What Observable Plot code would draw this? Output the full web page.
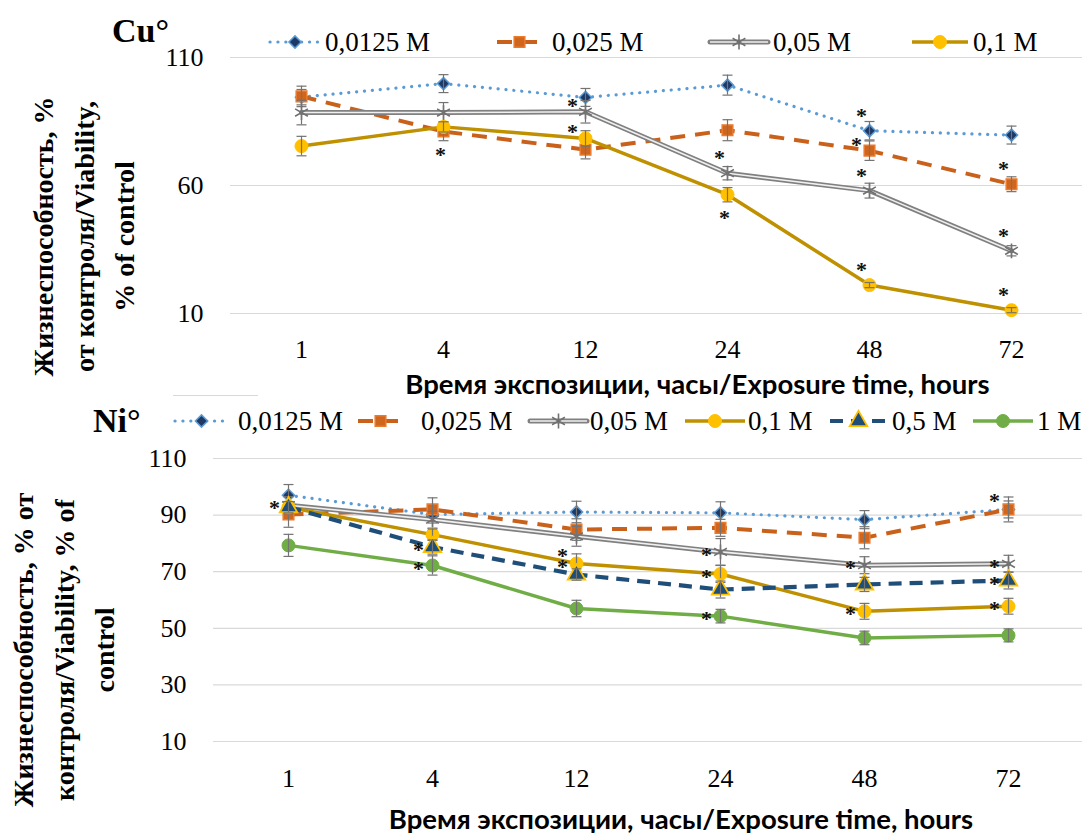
<!DOCTYPE html>
<html><head><meta charset="utf-8">
<script src="https://cdn.jsdelivr.net/npm/d3@7"></script>
<script src="https://cdn.jsdelivr.net/npm/@observablehq/plot@0.6"></script>
<style>
body{margin:0;background:#fff;}
#root{position:relative;width:1084px;height:835px;overflow:hidden;background:#fff;}
#root > svg{position:absolute;left:0;overflow:visible;}
</style></head><body><div id="root"></div>
<script>
// ---------- data ----------
const times = ["1","4","12","24","48","72"];

const cuSeries = ["0,0125 M","0,025 M","0,05 M","0,1 M"];
const cu0125 = [94.5, 99.8, 94.4, 99.2, 81.4, 79.7];
const cu025  = [94.8, 81.1, 74.0, 81.6, 73.6, 60.5];
const cu05   = [88.5, 88.5, 88.8, 64.8, 58.0, 34.5];
const cu1    = [75.4, 82.9, 78.4, 56.4, 21.1, 11.3];
const cu0125Err = [3.0, 3.5, 3.5, 3.9, 3.6, 3.5];
const cu025Err  = [4.0, 3.6, 3.6, 4.1, 3.8, 2.9];
const cu05Err   = [4.8, 3.9, 4.4, 2.6, 2.9, 2.0];
const cu1Err    = [3.8, 2.0, 3.0, 2.8, 1.0, 1.0];

const niSeries = ["0,0125 M","0,025 M","0,05 M","0,1 M","0,5 M","1 M"];
const ni0125 = [97.0, 90.2, 91.1, 90.8, 88.4, 92.0];
const ni025  = [90.2, 92.0, 84.9, 85.5, 82.0, 92.0];
const ni05   = [93.5, 88.4, 82.5, 77.0, 72.3, 72.8];
const ni1    = [92.8, 83.1, 72.9, 69.2, 56.0, 57.8];
const ni5    = [92.8, 78.7, 69.0, 63.7, 65.5, 66.9];
const ni10   = [79.3, 72.2, 57.0, 54.3, 46.6, 47.5];
const ni0125Err = [3.8, 3.0, 3.8, 3.9, 3.2, 3.0];
const ni025Err  = [4.5, 4.1, 3.8, 3.0, 3.9, 4.4];
const ni05Err   = [3.0, 3.0, 3.5, 4.7, 3.0, 3.0];
const ni1Err    = [2.0, 2.0, 3.4, 3.0, 2.8, 2.8];
const ni5Err    = [2.0, 2.5, 2.0, 3.0, 2.5, 3.0];
const ni10Err   = [3.9, 3.4, 2.9, 2.4, 2.4, 2.3];

// significance marks: [time, series]
const cuStarAbove = [["24","0,05 M"],["48","0,0125 M"],["48","0,05 M"],["48","0,1 M"],["72","0,025 M"],["72","0,05 M"],["72","0,1 M"]];
const cuStarAboveLeft = [["12","0,05 M"],["12","0,1 M"],["48","0,025 M"]];
const cuStarBelow = [["4","0,025 M"],["24","0,1 M"]];
const niStarLeft = [["1","0,05 M"],["4","0,5 M"],["4","1 M"],["24","0,05 M"],["24","0,1 M"],["24","1 M"],["48","0,05 M"],["48","0,1 M"],["72","0,05 M"],["72","0,5 M"],["72","0,1 M"]];
const niStarAboveLeft = [["12","0,1 M"],["12","0,5 M"],["72","0,025 M"]];

const cuTicks = [10, 60, 110];
const niTicks = [10, 30, 50, 70, 90, 110];
const yLabelCu = "Жизнеспособность, %\nот контроля/Viability,\n% of control";
const yLabelNi = "Жизнеспособность, % от\nконтроля/Viability, % of\ncontrol";
const xLabel = "Время экспозиции, часы/Exposure time, hours";

// ---------- styles ----------
const serif = "'Liberation Serif','Times New Roman',serif";
const errColor = "#737373";
const seriesStyle = {
  "0,0125 M": {stroke:"#5B9BD5", width:3.2, dash:"0.1 7.8", cap:"round", symbol:"diamond2", fill:"#1F3864", mstroke:"#5B9BD5", r:5.5, mw:1.5},
  "0,025 M":  {stroke:"#C9611B", width:4, dash:"15 10", cap:"butt", symbol:"square", fill:"#D0661E", mstroke:"#E97B2F", r:6, mw:1.5},
  "0,05 M":   {double:true, stroke:"#808080", width:5, inner:"#f0f0f0", innerWidth:1.6, symbol:"asterisk", fill:"none", mstroke:"#707070", r:7, mw:1.6},
  "0,1 M":    {stroke:"#BF9000", width:3.5, symbol:"circle", fill:"#FFC000", mstroke:"#FFC000", r:6.5, mw:1},
  "0,5 M":    {stroke:"#1F4E79", width:4.2, dash:"13 8", cap:"butt", symbol:"triangle", fill:"#1F4E79", mstroke:"#FFC000", r:6.5, mw:1.8},
  "1 M":      {stroke:"#70AD47", width:3.5, symbol:"circle", fill:"#70AD47", mstroke:"#70AD47", r:6.5, mw:1}
};
const capSymbol = {draw(ctx, size){ const w = Math.sqrt(size/Math.PI); ctx.moveTo(-w,0); ctx.lineTo(w,0); }};

function buildPanel(cfg){
  const rows = [];
  cfg.series.forEach((s, si) => cfg.values[si].forEach((v, i) => rows.push({time: times[i], series: s, v, e: cfg.errors[si][i]})));
  const lookup = new Map(rows.map(d => [d.time + "|" + d.series, d]));
  const marks = [
    Plot.gridY(cfg.yTicks, {stroke:"#d9d9d9", strokeOpacity:1, strokeWidth:1.2}),
    Plot.axisY(cfg.yTicks, {tickSize:0, tickPadding:27, fontSize:26, label:null}),
    Plot.axisX({tickSize:0, tickPadding:cfg.xPad, fontSize:26, label:null})
  ];
  for (const s of cfg.series){
    const st = seriesStyle[s];
    const data = rows.filter(d => d.series === s);
    if (st.double){
      marks.push(Plot.line(data, {x:"time", y:"v", stroke:st.stroke, strokeWidth:st.width}));
      marks.push(Plot.line(data, {x:"time", y:"v", stroke:st.inner, strokeWidth:st.innerWidth}));
    } else {
      marks.push(Plot.line(data, {x:"time", y:"v", stroke:st.stroke, strokeWidth:st.width, strokeDasharray:st.dash, strokeLinecap:st.cap || "butt"}));
    }
    marks.push(Plot.dot(data, {x:"time", y:"v", symbol:st.symbol, r:st.r, fill:st.fill, stroke:st.mstroke, strokeWidth:st.mw}));
    marks.push(Plot.ruleX(data, {x:"time", y1:d=>d.v-d.e, y2:d=>d.v+d.e, stroke:errColor, strokeWidth:1.2}));
    marks.push(Plot.dot(data, {x:"time", y:d=>d.v+d.e, symbol:capSymbol, r:5, fill:"none", stroke:errColor, strokeWidth:1.2}));
    marks.push(Plot.dot(data, {x:"time", y:d=>d.v-d.e, symbol:capSymbol, r:5, fill:"none", stroke:errColor, strokeWidth:1.2}));
  }
  for (const g of cfg.stars){
    marks.push(Plot.text(g.list.map(([t,s]) => lookup.get(t + "|" + s)), {x:"time", y:"v", text:()=>"*", dx:g.dx, dy:g.dy, fontSize:22, fontWeight:"bold", fill:"#111"}));
  }
  marks.push(Plot.text([cfg.yLabel], {frameAnchor:"left", rotate:-90, dx:cfg.yLabelDx, dy:cfg.yLabelDy, textAnchor:"middle", lineAnchor:"middle", lineHeight:1.45, fontSize:28, fontWeight:"bold", fill:"#000"}));
  marks.push(Plot.text([xLabel], {frameAnchor:"bottom", lineAnchor:"middle", dx:cfg.xLabelDx, dy:cfg.xLabelDy, fontFamily:"Lato, 'Open Sans', sans-serif", fontWeight:"bold", fontSize:27.5, fill:"#000"}));
  return Plot.plot({
    width:1084, height:cfg.height,
    marginTop:cfg.marginTop, marginBottom:cfg.marginBottom, marginLeft:cfg.marginLeft, marginRight:2,
    x:{type:"point", domain:times, padding:0.5},
    y:{domain:[10,110]},
    style:{fontFamily:serif, fontSize:"26px", background:"transparent", color:"#000", overflow:"visible"},
    marks
  });
}

const root = document.getElementById("root");

const topPlot = buildPanel({
  series: cuSeries, values:[cu0125, cu025, cu05, cu1], errors:[cu0125Err, cu025Err, cu05Err, cu1Err],
  yTicks: cuTicks, height:400, marginTop:57, marginBottom:87, marginLeft:230, xPad:26,
  stars:[{list:cuStarAbove, dx:-8, dy:-15},{list:cuStarAboveLeft, dx:-13, dy:-6},{list:cuStarBelow, dx:-3, dy:23}],
  yLabel: yLabelCu, yLabelDx:-150, yLabelDy:51, xLabelDx:41, xLabelDy:72
});
topPlot.style.top = "0px";
root.appendChild(topPlot);

const bottomPlot = buildPanel({
  series: niSeries, values:[ni0125, ni025, ni05, ni1, ni5, ni10], errors:[ni0125Err, ni025Err, ni05Err, ni1Err, ni5Err, ni10Err],
  yTicks: niTicks, height:440, marginTop:63, marginBottom:94, marginLeft:213, xPad:27,
  stars:[{list:niStarLeft, dx:-14, dy:3},{list:niStarAboveLeft, dx:-14, dy:-8}],
  yLabel: yLabelNi, yLabelDx:-153, yLabelDy:50, xLabelDx:33, xLabelDy:79
});
bottomPlot.style.top = "395px";
root.appendChild(bottomPlot);

// ---------- legends & panel labels ----------
const ov = d3.select(root).append("svg").attr("width",1084).attr("height",835).style("top","0px").style("pointer-events","none");
ov.append("line").attr("x1",173).attr("x2",258).attr("y1",395.5).attr("y2",395.5).attr("stroke","#d9d9d9").attr("stroke-width",1.2);
const symbolTypes = {diamond2:d3.symbolDiamond2, square:d3.symbolSquare, asterisk:d3.symbolAsterisk, circle:d3.symbolCircle, triangle:d3.symbolTriangle};
function legendItem(s, x0, x1, tx, y){
  const st = seriesStyle[s];
  if (st.double){
    ov.append("line").attr("x1",x0).attr("x2",x1).attr("y1",y).attr("y2",y).attr("stroke",st.stroke).attr("stroke-width",st.width).attr("stroke-linecap","round");
    ov.append("line").attr("x1",x0).attr("x2",x1).attr("y1",y).attr("y2",y).attr("stroke",st.inner).attr("stroke-width",st.innerWidth);
  } else {
    ov.append("line").attr("x1",x0).attr("x2",x1).attr("y1",y).attr("y2",y).attr("stroke",st.stroke).attr("stroke-width",st.width)
      .attr("stroke-dasharray",st.dash || null).attr("stroke-linecap",st.cap || "butt");
  }
  ov.append("path").attr("transform",`translate(${(x0+x1)/2},${y})`)
    .attr("d", d3.symbol(symbolTypes[st.symbol], Math.PI*st.r*st.r)())
    .attr("fill",st.fill).attr("stroke",st.mstroke).attr("stroke-width",st.mw);
  ov.append("text").attr("x",tx).attr("y",y).attr("dy","0.34em").attr("font-family",serif).attr("font-size",27).attr("fill","#000").text(s);
}
const cuLegendX = [[270,320,325],[497,542,552],[710,768,773],[912,968,973]];
cuSeries.forEach((s,i) => legendItem(s, ...cuLegendX[i], 42));
const niLegendX = [[175,228,238],[358,403,421],[530,587,590],[685,745,748],[830,887,892],[973,1033,1037]];
niSeries.forEach((s,i) => legendItem(s, ...niLegendX[i], 421));

ov.append("text").attr("x",112).attr("y",42).attr("font-family",serif).attr("font-weight","bold").attr("font-size",34).attr("fill","#000").text("Cu°");
ov.append("text").attr("x",93).attr("y",432).attr("font-family",serif).attr("font-weight","bold").attr("font-size",34).attr("fill","#000").text("Ni°");
</script></body></html>
